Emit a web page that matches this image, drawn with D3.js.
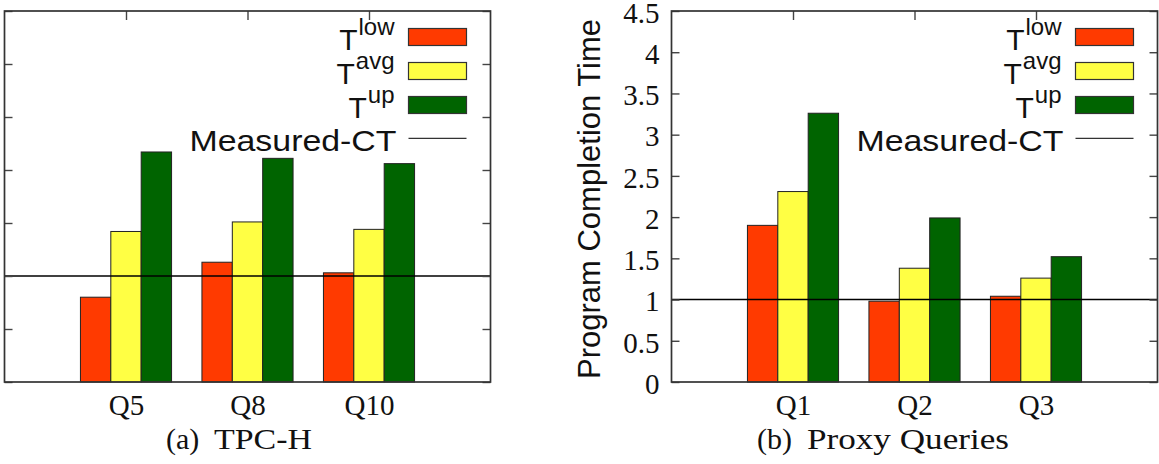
<!DOCTYPE html>
<html>
<head>
<meta charset="utf-8">
<script src="https://cdn.jsdelivr.net/npm/d3@7"></script>
<style>
  html, body { margin: 0; padding: 0; background: #fff; }
  svg { display: block; }
</style>
</head>
<body>
<svg id="chart" width="1159" height="464"></svg>
<script>
// ---- data ----
const seriesNames = ["low", "avg", "up"];
const seriesColors = ["#ff3a00", "#ffff44", "#006400"];
const measuredLabel = "Measured-CT";
const measuredValue = 1;

const leftCategories = ["Q5", "Q8", "Q10"];
const leftLow = [0.80, 1.13, 1.03];
const leftAvg = [1.42, 1.51, 1.44];
const leftUp  = [2.17, 2.11, 2.06];
const leftTicks = [0, 0.5, 1, 1.5, 2, 2.5, 3, 3.5];
const leftCaption = ["(a)", "TPC-H"];

const rightCategories = ["Q1", "Q2", "Q3"];
const rightLow = [1.90, 0.98, 1.04];
const rightAvg = [2.31, 1.38, 1.26];
const rightUp  = [3.26, 1.99, 1.52];
const rightTicks = [0, 0.5, 1, 1.5, 2, 2.5, 3, 3.5, 4, 4.5];
const rightTickLabels = ["0", "0.5", "1", "1.5", "2", "2.5", "3", "3.5", "4", "4.5"];
const rightCaption = ["(b)", "Proxy Queries"];
const yLabel = "Program Completion Time";

const svg = d3.select("#chart");
const SERIF = "'Liberation Serif', 'Times New Roman', serif";
const SANS = "'Liberation Sans', Arial, sans-serif";

function panel(opt) {
  const g = svg.append("g");
  const x = d3.scaleLinear().domain([-1, 3]).range([opt.x0, opt.x1]);
  const y = d3.scaleLinear().domain([0, opt.ymax]).range([opt.y1, opt.y0]);
  const series = [opt.low, opt.avg, opt.up];
  const bw = 0.25;

  // bars
  series.forEach((vals, j) => {
    g.append("g").selectAll("rect").data(vals).join("rect")
      .attr("x", (d, i) => x(i + (j - 1) * bw - bw / 2))
      .attr("width", x(bw) - x(0))
      .attr("y", d => y(d))
      .attr("height", d => y(0) - y(d))
      .attr("fill", seriesColors[j])
      .attr("stroke", "#222")
      .attr("stroke-width", 1);
  });

  // measured line
  g.append("line")
    .attr("x1", x(-1)).attr("x2", x(3))
    .attr("y1", y(measuredValue)).attr("y2", y(measuredValue))
    .attr("stroke", "#000").attr("stroke-width", 1.5);

  // left axis
  const la = d3.axisLeft(y).tickValues(opt.ticks).tickSizeInner(-8).tickSizeOuter(0).tickPadding(12)
    .tickFormat((d, i) => opt.tickLabels ? opt.tickLabels[i] : "");
  const lag = g.append("g").attr("transform", `translate(${opt.x0},0)`).call(la);
  lag.select(".domain").remove();
  lag.selectAll("line").attr("stroke", "#444").attr("stroke-width", 1.4);
  lag.selectAll("text").attr("font-family", SERIF).attr("font-size", 29).attr("fill", "#111")
    .attr("dy", "0.39em");

  // right mirror axis
  const ra = d3.axisRight(y).tickValues(opt.ticks).tickSizeInner(-8).tickSizeOuter(0).tickFormat("");
  const rag = g.append("g").attr("transform", `translate(${opt.x1},0)`).call(ra);
  rag.select(".domain").remove();
  rag.selectAll("line").attr("stroke", "#444").attr("stroke-width", 1.4);

  // top mirror x ticks
  const ta = d3.axisTop(x).tickValues([0, 1, 2]).tickSizeInner(-9).tickSizeOuter(0).tickFormat("");
  const tag = g.append("g").attr("transform", `translate(0,${opt.y0})`).call(ta);
  tag.select(".domain").remove();
  tag.selectAll("line").attr("stroke", "#444").attr("stroke-width", 1.4);

  // bottom axis labels
  const ba = d3.axisBottom(x).tickValues([0, 1, 2]).tickSize(0).tickPadding(12)
    .tickFormat((d, i) => opt.categories[i]);
  const bag = g.append("g").attr("transform", `translate(0,${opt.y1})`).call(ba);
  bag.select(".domain").remove();
  bag.selectAll("text").attr("font-family", SERIF).attr("font-size", 29).attr("fill", "#111");

  // frame
  g.append("rect")
    .attr("x", opt.x0).attr("y", opt.y0)
    .attr("width", opt.x1 - opt.x0).attr("height", opt.y1 - opt.y0)
    .attr("fill", "none").attr("stroke", "#333").attr("stroke-width", 1.7);

  // legend
  const lg = g.append("g");
  const swL = opt.x1 - 82, swR = opt.x1 - 24, textR = opt.x1 - 96;
  const rowY = [37, 71, 105];
  seriesNames.forEach((nm, j) => {
    lg.append("rect")
      .attr("x", swL).attr("y", rowY[j] - 8.5)
      .attr("width", swR - swL).attr("height", 17)
      .attr("fill", seriesColors[j]).attr("stroke", "#333").attr("stroke-width", 1.2);
    const sup = lg.append("text")
      .attr("x", textR).attr("y", rowY[j] - 2)
      .attr("text-anchor", "end")
      .attr("font-family", SANS).attr("font-size", 24).attr("fill", "#111")
      .text(nm);
    const w = sup.node().getComputedTextLength();
    lg.append("text")
      .attr("x", textR - w - 1).attr("y", rowY[j] + 13)
      .attr("text-anchor", "end")
      .attr("font-family", SANS).attr("font-size", 30).attr("fill", "#111")
      .text("T");
  });
  lg.append("line")
    .attr("x1", swL).attr("x2", swR).attr("y1", 138.3).attr("y2", 138.3)
    .attr("stroke", "#333").attr("stroke-width", 1.3);
  lg.append("text")
    .attr("x", textR + 2).attr("y", 150.5)
    .attr("text-anchor", "end")
    .attr("font-family", SANS).attr("font-size", 30).attr("fill", "#111")
    .attr("textLength", 207).attr("lengthAdjust", "spacingAndGlyphs")
    .text(measuredLabel);

  // caption
  g.append("text").attr("x", opt.capL).attr("y", 449)
    .attr("font-family", SERIF).attr("font-size", 30).attr("fill", "#111")
    .text(opt.caption[0]);
  g.append("text").attr("x", opt.capR).attr("y", 449)
    .attr("text-anchor", "end")
    .attr("font-family", SERIF).attr("font-size", 30).attr("fill", "#111")
    .attr("textLength", opt.capW).attr("lengthAdjust", "spacingAndGlyphs")
    .text(opt.caption[1]);
  return g;
}

panel({
  x0: 4.5, x1: 490.5, y0: 11, y1: 382, ymax: 3.5,
  ticks: leftTicks, tickLabels: null,
  categories: leftCategories, low: leftLow, avg: leftAvg, up: leftUp,
  caption: leftCaption, capL: 166, capR: 312, capW: 98
});

panel({
  x0: 671.5, x1: 1157.5, y0: 11, y1: 382, ymax: 4.5,
  ticks: rightTicks, tickLabels: rightTickLabels,
  categories: rightCategories, low: rightLow, avg: rightAvg, up: rightUp,
  caption: rightCaption, capL: 757, capR: 1009, capW: 202
});

svg.append("text")
  .attr("transform", "translate(600,199) rotate(-90)")
  .attr("text-anchor", "middle")
  .attr("font-family", SANS).attr("font-size", 31).attr("fill", "#111")
  .text(yLabel);
</script>
</body>
</html>
